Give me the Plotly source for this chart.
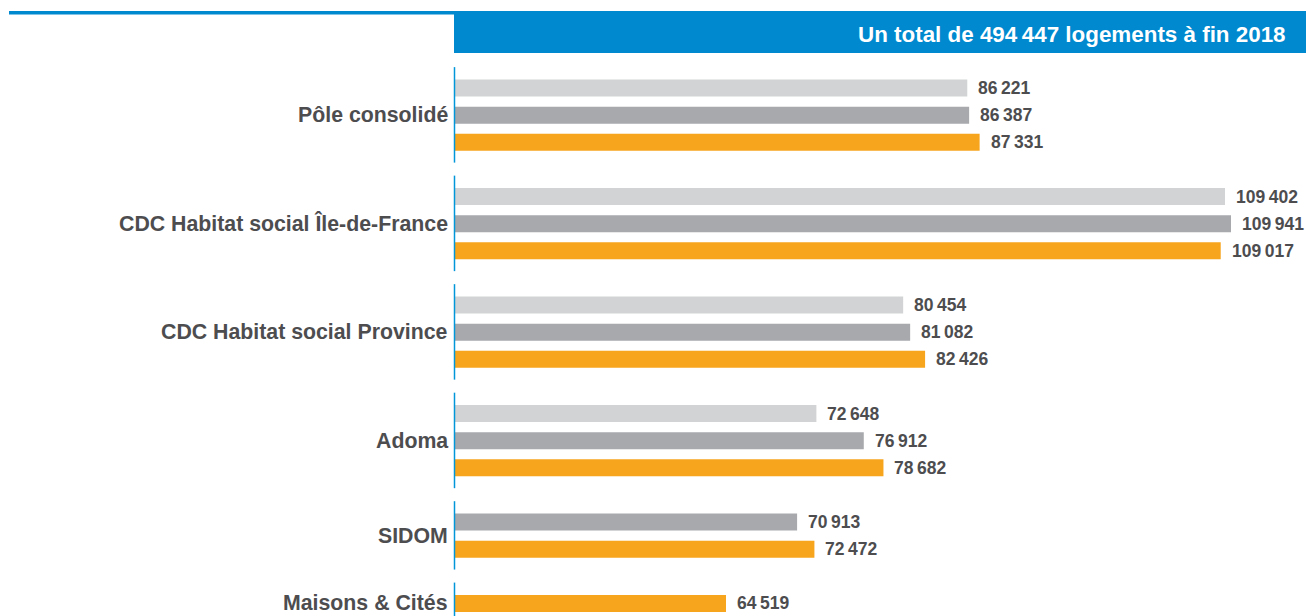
import plotly.graph_objects as go

# ---- data ----
categories = ["Pôle consolidé", "CDC Habitat social Île-de-France", "CDC Habitat social Province",
              "Adoma", "SIDOM", "Maisons & Cités"]
series_names = ["2016", "2017", "2018"]
values_2016 = [86221, 109402, 80454, 72648, None, None]
values_2017 = [86387, 109941, 81082, 76912, 70913, None]
values_2018 = [87331, 109017, 82426, 78682, 72472, 64519]
banner_text = "Un total de 494\u2009447 logements à fin 2018"

series_values = [values_2016, values_2017, values_2018]
colors = ["#D1D3D4", "#A7A9AC", "#F7A51D"]
BLUE = "#0089CF"
TEXT = "#4D4D4F"

W, H = 1306, 616
ML = 455
PW = W - ML
ROW_PX = 27.13
FIRST_ROW_PX = 88

def fmt(v):
    s = f"{v:,}"
    return s.replace(",", "\u2009")

# assign row positions: bars stacked, one blank row between groups
rows = {i: [] for i in range(len(series_names))}
group_rows = []
r = 0
for g in range(len(categories)):
    grp = []
    for s in range(len(series_names)):
        v = series_values[s][g]
        if v is not None:
            rows[s].append((r, v))
            grp.append(r)
            r += 1
    group_rows.append(grp)
    r += 1

fig = go.Figure()
annotations = []
for s, name in enumerate(series_names):
    ys = [p[0] for p in rows[s]]
    xs = [p[1] for p in rows[s]]
    fig.add_trace(go.Bar(
        x=xs, y=ys, orientation="h", name=name,
        marker=dict(color=colors[s], line=dict(width=0)),
        width=17 / ROW_PX, showlegend=False, hoverinfo="skip"))
    for y, x in zip(ys, xs):
        annotations.append(dict(
            x=x, y=y, xref="x", yref="y", text=f"<b>{fmt(x)}</b>", showarrow=False,
            xanchor="left", yanchor="middle", xshift=9,
            font=dict(family="Liberation Sans, Arial", size=17.5, color=TEXT)))

shapes = []
for g, cat in enumerate(categories):
    grp = group_rows[g]
    ymid = sum(grp) / len(grp)
    annotations.append(dict(
        x=(450 - ML) / PW, xref="paper", y=ymid, yref="y", text=f"<b>{cat}</b>",
        showarrow=False, xanchor="right", yanchor="middle",
        font=dict(family="Liberation Sans, Arial", size=21.3, color=TEXT)))
    shapes.append(dict(
        type="line", xref="paper", yref="y",
        x0=(454.5 - ML) / PW, x1=(454.5 - ML) / PW,
        y0=grp[0] - 0.77, y1=grp[-1] + 0.75,
        line=dict(color="#0096D8", width=1.5)))

# banner
shapes.append(dict(type="rect", xref="paper", yref="paper",
                   x0=(454 - ML) / PW, x1=1, y0=1 - 53 / H, y1=1 - 11 / H,
                   fillcolor=BLUE, line=dict(width=0), layer="below"))
shapes.append(dict(type="rect", xref="paper", yref="paper",
                   x0=(9 - ML) / PW, x1=(459 - ML) / PW, y0=1 - 14.5 / H, y1=1 - 11 / H,
                   fillcolor=BLUE, line=dict(width=0), layer="below"))
annotations.append(dict(
    x=(1288 - ML) / PW, xref="paper", y=1 - 34 / H, yref="paper",
    text=f"<b>{banner_text}</b>", showarrow=False, xanchor="right", yanchor="middle",
    font=dict(family="Liberation Sans, Arial", size=22.4, color="white")))

x_lo = 40144
x_hi = 116687
y_top = -FIRST_ROW_PX / ROW_PX
y_bot = (H - FIRST_ROW_PX) / ROW_PX

fig.update_layout(
    width=W, height=H,
    margin=dict(l=ML, r=0, t=0, b=0),
    paper_bgcolor="white", plot_bgcolor="white",
    barmode="overlay",
    xaxis=dict(range=[x_lo, x_hi], visible=False, fixedrange=True),
    yaxis=dict(range=[y_bot, y_top], visible=False, fixedrange=True),
    shapes=shapes, annotations=annotations,
    showlegend=False,
)

fig.write_html("out.html", config={"displayModeBar": False},
               post_script="document.body.style.margin='0';document.body.style.overflow='hidden';")
